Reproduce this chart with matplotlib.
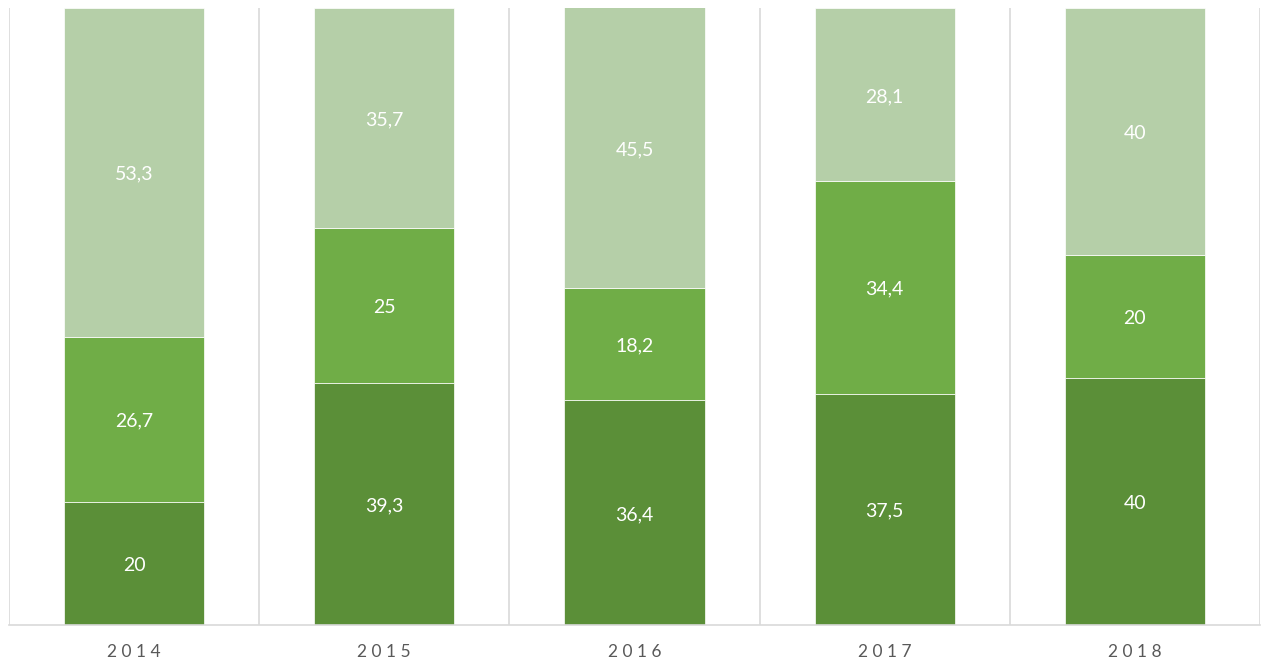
import matplotlib
matplotlib.use("Agg")
import matplotlib.pyplot as plt
import numpy as np

plt.rcParams['font.family'] = ['Lato', 'DejaVu Sans']

years = ['2014', '2015', '2016', '2017', '2018']
bottom_vals = [20, 39.3, 36.4, 37.5, 40]
middle_vals = [26.7, 25, 18.2, 34.4, 20]
top_vals = [53.3, 35.7, 45.5, 28.1, 40]

colors = ['#5B8F38', '#70AD47', '#B5CFA8']

fig = plt.figure(figsize=(12.69, 6.65), dpi=100)
ax = fig.add_axes([9 / 1269, 40 / 665, 1251 / 1269, 617 / 665])

x = np.arange(len(years))
base = np.zeros(len(years))
for vals, col in zip([bottom_vals, middle_vals, top_vals], colors):
    vals = np.array(vals)
    ax.bar(x, vals, width=0.56, bottom=base, color=col, edgecolor='white', linewidth=0.5, zorder=2)
    for xi, b, v in zip(x, base, vals):
        lab = ('%g' % v).replace('.', ',')
        ax.text(xi, b + v / 2 - 0.3, lab, ha='center', va='center', color='white', fontsize=14, zorder=3)
    base = base + vals

ax.set_xlim(-0.5, len(years) - 0.5)
ax.set_ylim(0, 100)

# category separators
for sep in np.arange(-0.5, len(years)):
    ax.axvline(sep, color='#D9D9D9', linewidth=1.2, zorder=1)

for s in ['top', 'right', 'left']:
    ax.spines[s].set_visible(False)
ax.spines['bottom'].set_color('#D9D9D9')
ax.spines['bottom'].set_linewidth(1.2)

ax.set_yticks([])
ax.set_xticks(x)
ax.set_xticklabels([' '.join(y) for y in years], color='#595959', fontsize=12.5)
ax.tick_params(axis='x', length=0, pad=14)

fig.savefig('out.png', dpi=100)
